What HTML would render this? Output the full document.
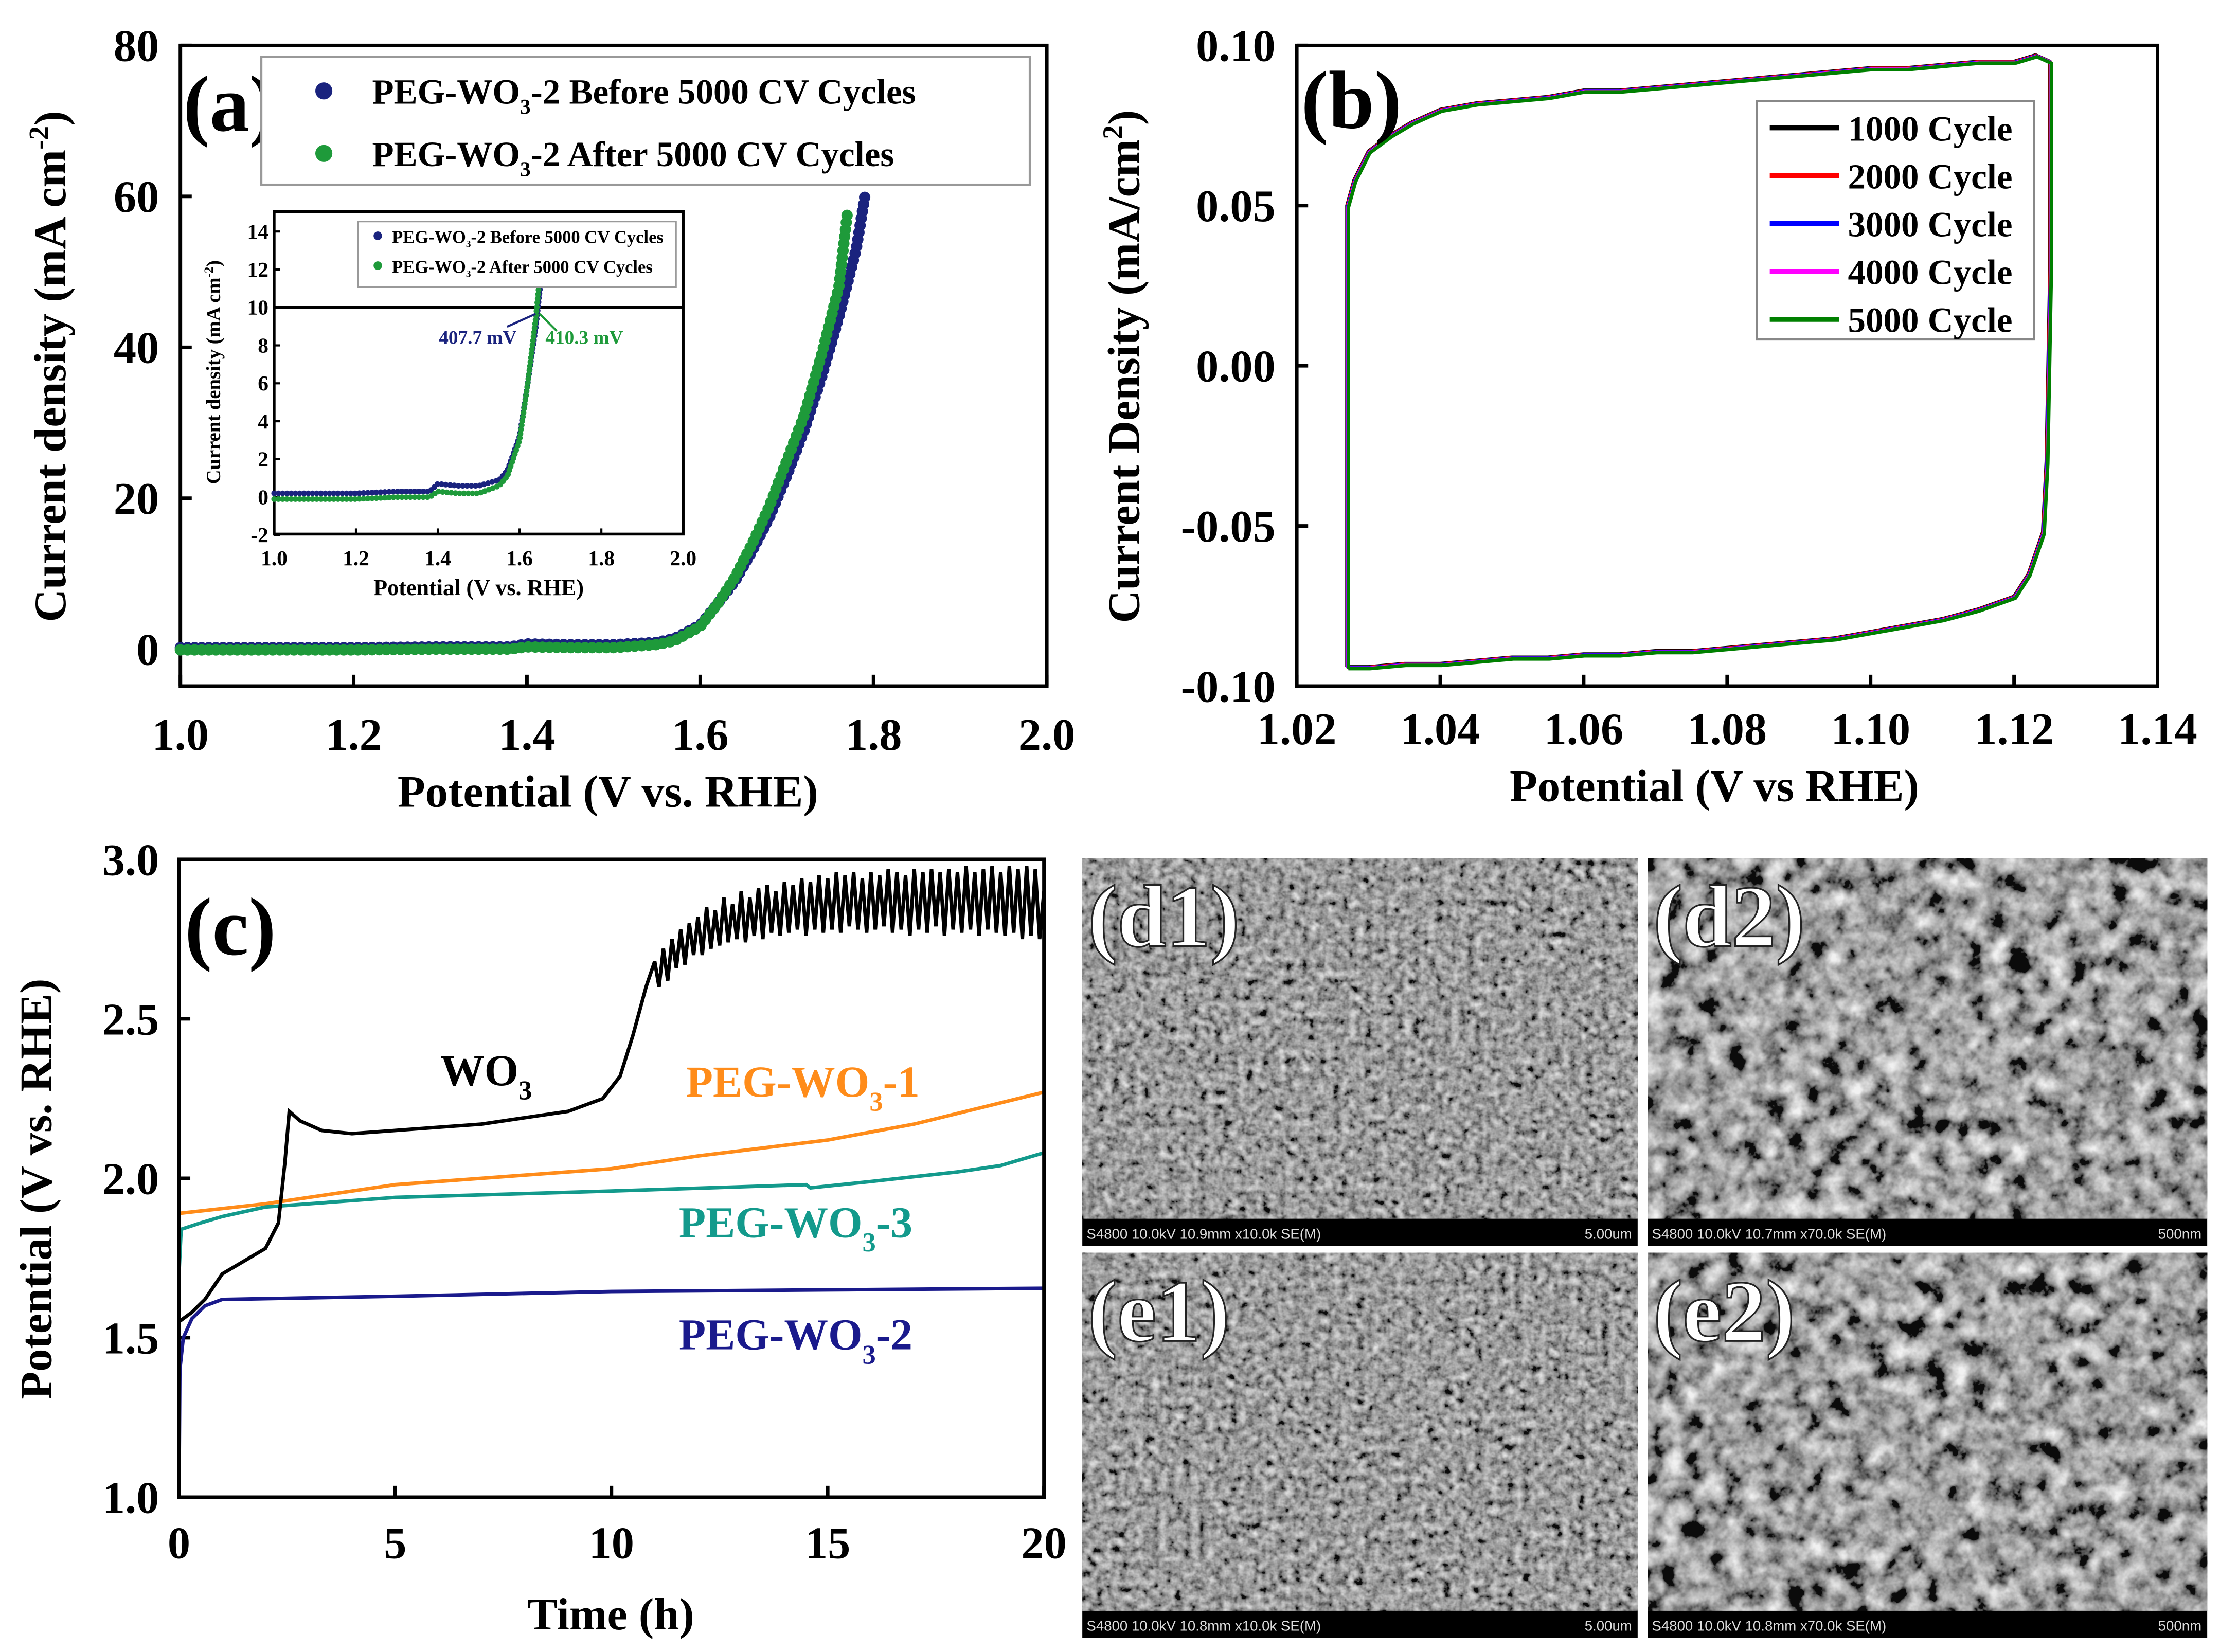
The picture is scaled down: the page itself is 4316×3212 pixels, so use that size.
<!DOCTYPE html>
<html><head><meta charset="utf-8">
<style>
html,body{margin:0;padding:0;background:#fff;}
svg{display:block;font-family:"Liberation Serif",serif;font-weight:bold;}
</style></head>
<body>
<svg id="fig" width="4316" height="3212" viewBox="0 0 1563 1163" preserveAspectRatio="none" xmlns="http://www.w3.org/2000/svg">
<defs>
<filter id="sem1" x="0" y="0" width="100%" height="100%"><feTurbulence type="fractalNoise" baseFrequency="0.18" numOctaves="3" seed="3"/><feColorMatrix type="matrix" values="0.33 0.33 0.33 0 0  0.33 0.33 0.33 0 0  0.33 0.33 0.33 0 0  0 0 0 0 1"/><feComponentTransfer><feFuncR type="linear" slope="2.0" intercept="-0.64"/><feFuncG type="linear" slope="2.0" intercept="-0.64"/><feFuncB type="linear" slope="2.0" intercept="-0.64"/></feComponentTransfer></filter>
<filter id="sem2" x="0" y="0" width="100%" height="100%"><feTurbulence type="fractalNoise" baseFrequency="0.07" numOctaves="4" seed="7"/><feColorMatrix type="matrix" values="0.33 0.33 0.33 0 0  0.33 0.33 0.33 0 0  0.33 0.33 0.33 0 0  0 0 0 0 1"/><feComponentTransfer><feFuncR type="linear" slope="3.0" intercept="-1.12"/><feFuncG type="linear" slope="3.0" intercept="-1.12"/><feFuncB type="linear" slope="3.0" intercept="-1.12"/></feComponentTransfer></filter>
</defs>
<g id="root"></g>
</svg>
<script>
// ---------- Panel (a) data ----------
const aPotential = [1.0,1.1,1.2,1.3,1.38,1.4,1.45,1.5,1.55,1.57,1.6,1.62,1.64,1.66,1.68,1.7,1.72,1.74,1.76,1.78,1.79];
const aBefore    = [0.2,0.2,0.2,0.3,0.3,0.7,0.6,0.6,0.9,1.4,3.2,6,9,13,17.5,23,29,36,44,53,60];
const aAfterPot  = [1.0,1.1,1.2,1.3,1.38,1.4,1.45,1.5,1.55,1.57,1.6,1.62,1.64,1.66,1.68,1.7,1.72,1.74,1.76,1.77];
const aAfter     = [-0.1,-0.1,-0.1,0,0,0.3,0.2,0.2,0.6,1.1,3.0,6,9.5,14,19,25,31,39,48,58];
const aXTicks = ["1.0","1.2","1.4","1.6","1.8","2.0"];
const aYTicks = ["0","20","40","60","80"];
const insetYTicks = ["-2","0","2","4","6","8","10","12","14"];
// ---------- Panel (b) data ----------
const bPotential = [1.027,1.027,1.028,1.03,1.033,1.036,1.04,1.045,1.05,1.055,1.06,1.065,1.07,1.075,1.08,1.085,1.09,1.095,1.10,1.105,1.11,1.115,1.12,1.123,1.125,1.125,1.1245,1.124,1.122,1.12,1.115,1.11,1.105,1.10,1.095,1.09,1.085,1.08,1.075,1.07,1.065,1.06,1.055,1.05,1.045,1.04,1.035,1.03,1.027,1.027];
const bCurrent   = [-0.094,0.050,0.058,0.067,0.072,0.076,0.080,0.082,0.083,0.084,0.086,0.086,0.087,0.088,0.089,0.090,0.091,0.092,0.093,0.093,0.094,0.095,0.095,0.097,0.095,0.030,-0.030,-0.052,-0.065,-0.072,-0.076,-0.079,-0.081,-0.083,-0.085,-0.086,-0.087,-0.088,-0.089,-0.089,-0.090,-0.090,-0.091,-0.091,-0.092,-0.093,-0.093,-0.094,-0.094,-0.094];
const bSeries = ["1000 Cycle","2000 Cycle","3000 Cycle","4000 Cycle","5000 Cycle"];
const bColors = ["#000000","#ff0000","#0000ff","#ff00ff","#008000"];
const bXTicks = ["1.02","1.04","1.06","1.08","1.10","1.12","1.14"];
const bYTicks = ["-0.10","-0.05","0.00","0.05","0.10"];
// ---------- Panel (c) data ----------
const cTimeWO3start = [0,0.3,0.6,1.0,1.5,2.0,2.3,2.45,2.55,2.8,3.3,4,5,6,7,8,9,9.8,10.2,10.5,10.8];
const cWO3start     = [1.55,1.58,1.62,1.70,1.74,1.78,1.86,2.05,2.21,2.18,2.15,2.14,2.15,2.16,2.17,2.19,2.21,2.25,2.32,2.45,2.60];
const cWO3tailStart = 11.0, cWO3tailStep = 0.1;
const cWO3tail = [2.68,2.60,2.72,2.62,2.75,2.66,2.78,2.67,2.80,2.70,
 2.82,2.70,2.85,2.72,2.84,2.73,2.88,2.74,2.86,2.75,
 2.90,2.74,2.88,2.76,2.91,2.75,2.92,2.77,2.90,2.76,
 2.93,2.77,2.92,2.78,2.94,2.76,2.93,2.78,2.95,2.77,
 2.94,2.78,2.96,2.77,2.95,2.79,2.96,2.78,2.94,2.77,
 2.96,2.78,2.95,2.79,2.97,2.77,2.96,2.78,2.95,2.76,
 2.97,2.78,2.96,2.77,2.97,2.79,2.96,2.76,2.97,2.78,
 2.96,2.77,2.98,2.78,2.96,2.76,2.97,2.78,2.98,2.77,
 2.96,2.76,2.98,2.77,2.97,2.75,2.98,2.76,2.97,2.75,2.90];
const cTime1 = [0,2,5,7,10,12,15,17,20];
const cPEG1  = [1.89,1.92,1.98,2.0,2.03,2.07,2.12,2.17,2.27];
const cTime3 = [0,0.05,0.5,1,2,5,10,14.5,14.6,16,18,19,19.5,20];
const cPEG3  = [1.7,1.84,1.86,1.88,1.91,1.94,1.96,1.98,1.97,1.99,2.02,2.04,2.06,2.08];
const cTime2 = [0,0.02,0.1,0.3,0.6,1,5,10,15,20];
const cPEG2  = [1.0,1.40,1.50,1.56,1.60,1.62,1.63,1.645,1.65,1.655];
const cXTicks = ["0","5","10","15","20"];
const cYTicks = ["1.0","1.5","2.0","2.5","3.0"];

const NS="http://www.w3.org/2000/svg";
const root=document.getElementById('root');
function el(tag,attrs,parent,text){const e=document.createElementNS(NS,tag);for(const k in attrs)e.setAttribute(k,attrs[k]);if(text!==undefined)e.textContent=text;(parent||root).appendChild(e);return e;}
function lin(d0,d1,r0,r1){return v=>r0+(v-d0)/(d1-d0)*(r1-r0);}
function pts(xs,ys,sx,sy){return xs.map((x,i)=>sx(x).toFixed(2)+','+sy(ys[i]).toFixed(2)).join(' ');}

// ================= Panel A =================
const ax=lin(1.0,2.0,127,737), ay=lin(0,80,457,32);
let g=el('g',{});

let f=el('rect',{x:127,y:32,width:610,height:451,fill:'none',stroke:'#000','stroke-width':2.5},g);

aXTicks.forEach(t=>{const x=ax(+t);el('line',{x1:x,y1:483,x2:x,y2:475,stroke:'#000','stroke-width':2.5},g);
 const tx=el('text',{x:x,y:528,'font-size':32,'text-anchor':'middle'},g,t);});
aYTicks.forEach(t=>{const y=ay(+t);el('line',{x1:127,y1:y,x2:135,y2:y,stroke:'#000','stroke-width':2.5},g);
 const tx=el('text',{x:112,y:y+11,'font-size':32,'text-anchor':'end'},g,t);});
let t=el('text',{x:428,y:568,'font-size':32,'text-anchor':'middle'},g,'Potential (V vs. RHE)');

t=el('text',{transform:'translate(46,258) rotate(-90)','font-size':32,'text-anchor':'middle'},g);

t.innerHTML='Current density (mA cm<tspan dy="-12" font-size="20">-2</tspan><tspan dy="12">)</tspan>';
let s=el('polyline',{points:pts(aPotential,aBefore,ax,ay),fill:'none',stroke:'#1a237e','stroke-width':8,'stroke-linecap':'round','stroke-dasharray':'0 5'},g);

s=el('polyline',{points:pts(aAfterPot,aAfter,ax,ay),fill:'none',stroke:'#1e9a3a','stroke-width':8,'stroke-linecap':'round','stroke-dasharray':'0 5'},g);

t=el('text',{x:129,y:92,'font-size':56},g,'(a)');
let lg=el('g',{},g);
el('rect',{x:184,y:40,width:541,height:90,fill:'#fff',stroke:'#999','stroke-width':1.5},lg);
el('circle',{cx:228,cy:64,r:6,fill:'#1a237e'},lg);el('circle',{cx:228,cy:108,r:6,fill:'#1e9a3a'},lg);
t=el('text',{x:262,y:73,'font-size':25},lg);t.innerHTML='PEG-WO<tspan dy="7" font-size="15">3</tspan><tspan dy="-7">-2 Before 5000 CV Cycles</tspan>';

t=el('text',{x:262,y:117,'font-size':25},lg);t.innerHTML='PEG-WO<tspan dy="7" font-size="15">3</tspan><tspan dy="-7">-2 After 5000 CV Cycles</tspan>';

// inset
const ix=lin(1.0,2.0,193,481), iy=lin(0,14,350,163);
let ig=el('g',{},g);
el('rect',{x:193,y:149,width:288,height:227,fill:'#fff',stroke:'#000','stroke-width':2},ig);
["1.0","1.2","1.4","1.6","1.8","2.0"].forEach(v=>{const x=ix(+v);el('line',{x1:x,y1:376,x2:x,y2:372,stroke:'#000','stroke-width':1.5},ig);
 el('text',{x:x,y:398,'font-size':15,'text-anchor':'middle'},ig,v);});
insetYTicks.forEach(v=>{const y=iy(+v);el('line',{x1:193,y1:y,x2:197,y2:y,stroke:'#000','stroke-width':1.5},ig);
 el('text',{x:189,y:y+5,'font-size':15,'text-anchor':'end'},ig,v);});
el('text',{x:337,y:419,'font-size':16,'text-anchor':'middle'},ig,'Potential (V vs. RHE)');
t=el('text',{transform:'translate(155,262) rotate(-90)','font-size':14,'text-anchor':'middle'},ig);t.innerHTML='Current density (mA cm<tspan dy="-5" font-size="9">-2</tspan><tspan dy="5">)</tspan>';
el('line',{x1:193,y1:iy(10),x2:481,y2:iy(10),stroke:'#000','stroke-width':2},ig);
el('polyline',{points:pts(aPotential.slice(0,14),aBefore.slice(0,14),ix,iy),fill:'none',stroke:'#1a237e','stroke-width':4,'stroke-linecap':'round','stroke-dasharray':'0 3'},ig);
el('polyline',{points:pts(aAfterPot.slice(0,14),aAfter.slice(0,14),ix,iy),fill:'none',stroke:'#1e9a3a','stroke-width':4,'stroke-linecap':'round','stroke-dasharray':'0 3'},ig);
el('rect',{x:252,y:156,width:224,height:46,fill:'#fff',stroke:'#999','stroke-width':1},ig);
el('circle',{cx:266,cy:166,r:3,fill:'#1a237e'},ig);el('circle',{cx:266,cy:187,r:3,fill:'#1e9a3a'},ig);
t=el('text',{x:276,y:171,'font-size':12.5},ig);t.innerHTML='PEG-WO<tspan dy="3" font-size="7">3</tspan><tspan dy="-3">-2 Before 5000 CV Cycles</tspan>';
t=el('text',{x:276,y:192,'font-size':12.5},ig);t.innerHTML='PEG-WO<tspan dy="3" font-size="7">3</tspan><tspan dy="-3">-2 After 5000 CV Cycles</tspan>';
el('line',{x1:357,y1:230,x2:377,y2:221,stroke:'#1a237e','stroke-width':1.5},ig);
el('line',{x1:380,y1:221,x2:392,y2:233,stroke:'#1e9a3a','stroke-width':1.5},ig);
el('text',{x:309,y:242,'font-size':13.5,fill:'#1a237e'},ig,'407.7 mV');
el('text',{x:384,y:242,'font-size':13.5,fill:'#1e9a3a'},ig,'410.3 mV');

// ================= Panel B =================
const bx=lin(1.02,1.14,913,1519), by=lin(-0.10,0.10,483,32);
g=el('g',{});
f=el('rect',{x:913,y:32,width:606,height:451,fill:'none',stroke:'#000','stroke-width':2.5},g);

bXTicks.forEach(v=>{const x=bx(+v);el('line',{x1:x,y1:483,x2:x,y2:475,stroke:'#000','stroke-width':2.5},g);
 const tx=el('text',{x:x,y:524,'font-size':32,'text-anchor':'middle'},g,v);});
bYTicks.forEach(v=>{const y=by(+v);el('line',{x1:913,y1:y,x2:921,y2:y,stroke:'#000','stroke-width':2.5},g);
 const tx=el('text',{x:898,y:y+11,'font-size':32,'text-anchor':'end'},g,v);});
t=el('text',{x:1207,y:564,'font-size':32,'text-anchor':'middle'},g,'Potential (V vs RHE)');
t=el('text',{transform:'translate(802,258) rotate(-90)','font-size':32,'text-anchor':'middle'},g);
t.innerHTML='Current Density (mA/cm<tspan dy="-12" font-size="20">2</tspan><tspan dy="12">)</tspan>';

bSeries.forEach((n,i)=>{const p=el('polyline',{points:pts(bPotential,bCurrent,bx,by),fill:'none',stroke:bColors[i],'stroke-width':2.5,'stroke-linejoin':'round',transform:'translate('+(i*0.25)+','+(i*0.3)+')'},g);
 });
t=el('text',{x:916,y:90,'font-size':58},g,'(b)');
lg=el('g',{},g);
el('rect',{x:1237,y:71,width:195,height:168,fill:'#fff',stroke:'#888','stroke-width':1.5},lg);
bSeries.forEach((n,i)=>{const y=90+i*33.7;el('line',{x1:1246,y1:y,x2:1295,y2:y,stroke:bColors[i],'stroke-width':3.5},lg);
 const tx=el('text',{x:1301,y:y+9,'font-size':25},lg,n);});

// ================= Panel C =================
const cx=lin(0,20,126,735), cy=lin(1.0,3.0,1054,605);
g=el('g',{});
cXTicks.forEach(v=>{const x=cx(+v);el('line',{x1:x,y1:1054,x2:x,y2:1046,stroke:'#000','stroke-width':2.5},g);
 const tx=el('text',{x:x,y:1097,'font-size':32,'text-anchor':'middle'},g,v);});
cYTicks.forEach(v=>{const y=cy(+v);el('line',{x1:126,y1:y,x2:134,y2:y,stroke:'#000','stroke-width':2.5},g);
 const tx=el('text',{x:112,y:y+11,'font-size':32,'text-anchor':'end'},g,v);});
t=el('text',{x:430,y:1147,'font-size':32,'text-anchor':'middle'},g,'Time (h)');
t=el('text',{transform:'translate(36,837) rotate(-90)','font-size':32,'text-anchor':'middle'},g,'Potential (V vs. RHE)');
s=el('polyline',{points:pts(cTime1,cPEG1,cx,cy),fill:'none',stroke:'#ff8c1a','stroke-width':2.5},g);
s=el('polyline',{points:pts(cTime3,cPEG3,cx,cy),fill:'none',stroke:'#139a8c','stroke-width':2.5},g);
s=el('polyline',{points:pts(cTime2,cPEG2,cx,cy),fill:'none',stroke:'#1a1a8c','stroke-width':2.5},g);
const cTailTimes=cWO3tail.map((v,i)=>cWO3tailStart+i*cWO3tailStep);
s=el('polyline',{points:pts(cTimeWO3start.concat(cTailTimes),cWO3start.concat(cWO3tail),cx,cy),fill:'none',stroke:'#000','stroke-width':2.5},g);
f=el('rect',{x:126,y:605,width:609,height:449,fill:'none',stroke:'#000','stroke-width':2.5},g);
t=el('text',{x:130,y:672,'font-size':58},g,'(c)');
function sublabel(x,y,col,txt,name){const e=el('text',{x:x,y:y,'font-size':31,fill:col},g);e.innerHTML=txt;}
sublabel(310,764,'#000','WO<tspan dy="10" font-size="19">3</tspan>','label-wo3');
sublabel(483,772,'#ff8c1a','PEG-WO<tspan dy="10" font-size="19">3</tspan><tspan dy="-10">-1</tspan>','label-peg-wo3-1');
sublabel(478,871,'#139a8c','PEG-WO<tspan dy="10" font-size="19">3</tspan><tspan dy="-10">-3</tspan>','label-peg-wo3-3');
sublabel(478,950,'#1a1a8c','PEG-WO<tspan dy="10" font-size="19">3</tspan><tspan dy="-10">-2</tspan>','label-peg-wo3-2');

// ================= SEM images =================
const sem=[
 {x:762,y:604,w:391,h:273,lab:'(d1)',info:'S4800 10.0kV 10.9mm x10.0k SE(M)',sc:'5.00um',flt:'sem1'},
 {x:1160,y:604,w:394,h:273,lab:'(d2)',info:'S4800 10.0kV 10.7mm x70.0k SE(M)',sc:'500nm',flt:'sem2'},
 {x:762,y:882,w:391,h:271,lab:'(e1)',info:'S4800 10.0kV 10.8mm x10.0k SE(M)',sc:'5.00um',flt:'sem1'},
 {x:1160,y:882,w:394,h:271,lab:'(e2)',info:'S4800 10.0kV 10.8mm x70.0k SE(M)',sc:'500nm',flt:'sem2'}];
sem.forEach((m,i)=>{const sg=el('g',{});
 el('rect',{x:m.x,y:m.y,width:m.w,height:m.h-19,fill:'#777'},sg);
 el('rect',{x:m.x,y:m.y,width:m.w,height:m.h-19,filter:'url(#'+m.flt+')',opacity:0.9},sg);
 el('rect',{x:m.x,y:m.y+m.h-19,width:m.w,height:19,fill:'#000'},sg);
 el('text',{x:m.x+3,y:m.y+m.h-5,'font-size':10,fill:'#ddd','font-family':'Liberation Sans, sans-serif','font-weight':'normal'},sg,m.info);
 el('text',{x:m.x+m.w-4,y:m.y+m.h-5,'font-size':10,fill:'#ddd','text-anchor':'end','font-family':'Liberation Sans, sans-serif','font-weight':'normal'},sg,m.sc);
 const lt=el('text',{x:m.x+4,y:m.y+62,'font-size':62,fill:'#fff',stroke:'#222','stroke-width':1.2},sg,m.lab);
 });
</script>
</body></html>
